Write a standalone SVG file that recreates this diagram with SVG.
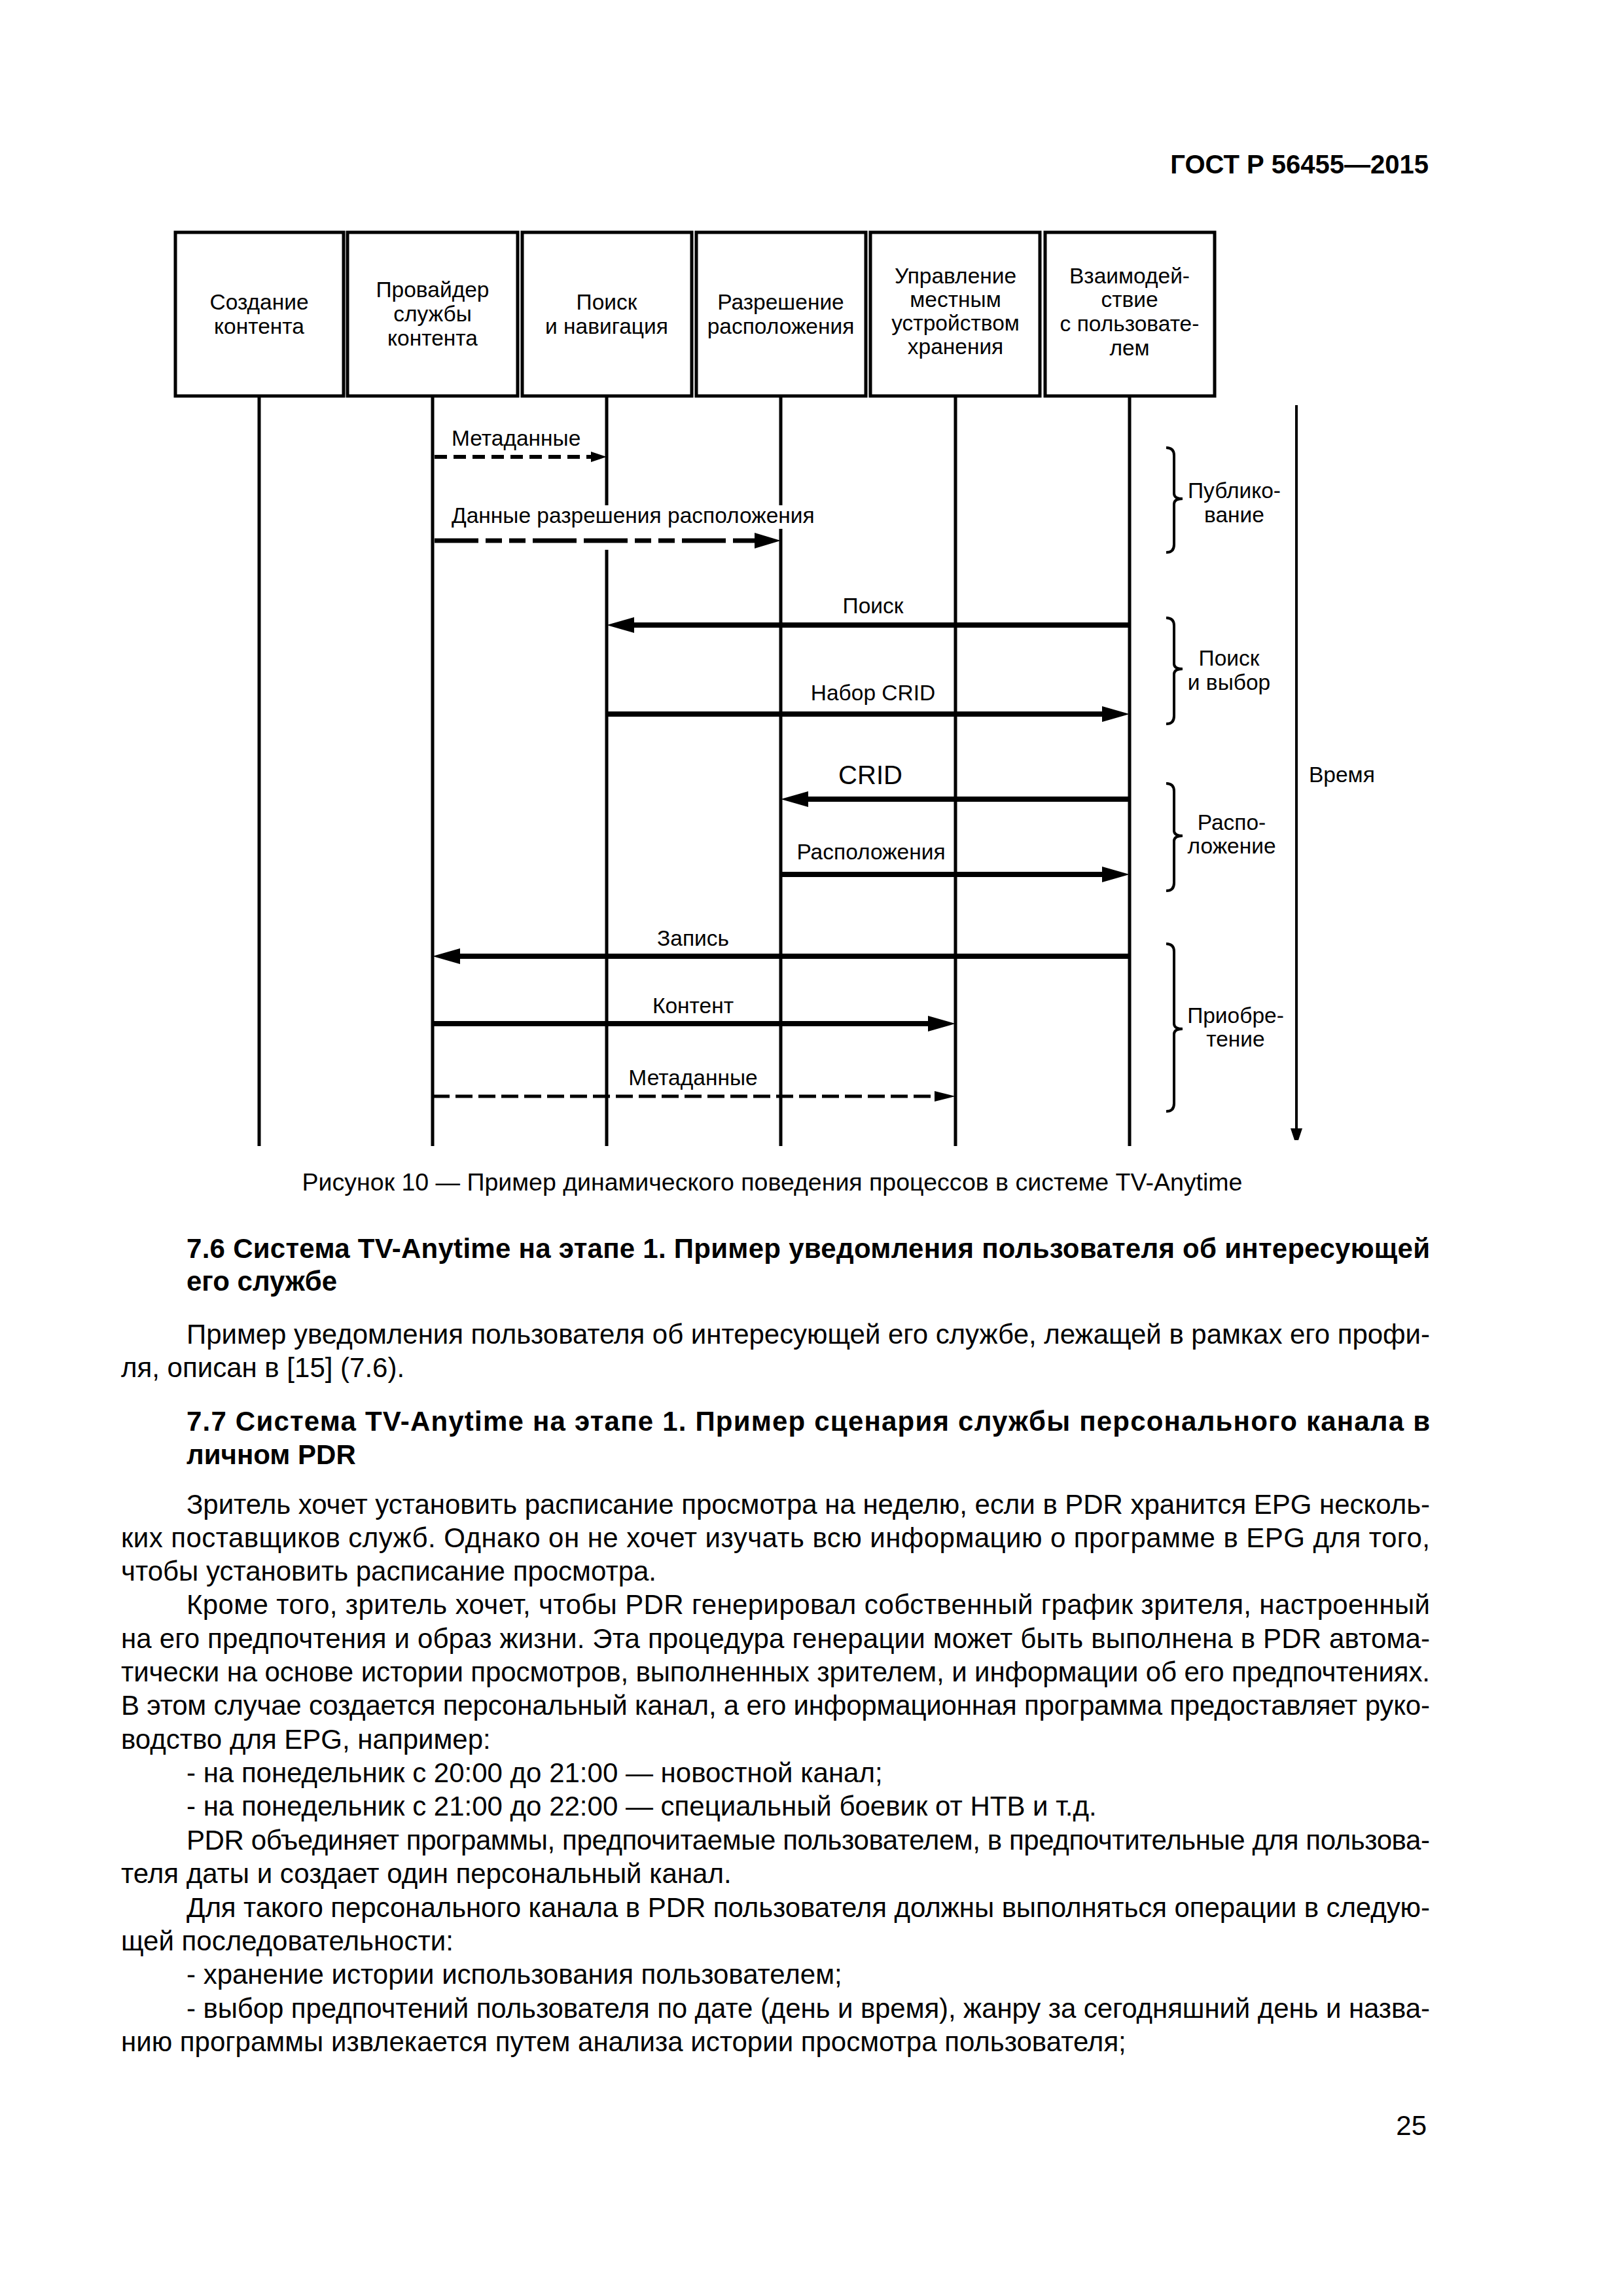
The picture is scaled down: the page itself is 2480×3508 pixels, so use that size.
<svg xmlns="http://www.w3.org/2000/svg" width="2480" height="3508" viewBox="0 0 2480 3508">
<defs>
<style>
text{font-family:"Liberation Sans",Arial,sans-serif;fill:#000}
.lbl{font-size:33.5px}
.crid{font-size:40px}
.c{text-anchor:middle}
.r{text-anchor:end}
.body{font-size:42px}
.b{font-weight:bold}
.cap{font-size:37.5px}
.hdr{font-size:40px;font-weight:bold}
.box{fill:#fff;stroke:#000;stroke-width:5}
.life{stroke:#000;stroke-width:5;fill:none}
.msg{stroke:#000;stroke-width:8;fill:none}
.d1{stroke:#000;stroke-width:6;stroke-dasharray:19 10;fill:none}
.d2{stroke:#000;stroke-width:7;stroke-dasharray:67 11 67 11 25 11 25 11;stroke-dashoffset:78;fill:none}
.d3{stroke:#000;stroke-width:5;stroke-dasharray:26 9;fill:none}
.time{stroke:#000;stroke-width:4;fill:none}
.brace{stroke:#000;stroke-width:4;fill:none}
</style>
<marker id="ah" markerUnits="userSpaceOnUse" markerWidth="42" markerHeight="24" refX="0" refY="12" orient="auto"><path d="M0,0 L42,12 L0,24 z"/></marker>
<marker id="ahm" markerUnits="userSpaceOnUse" markerWidth="40" markerHeight="24" refX="0" refY="12" orient="auto"><path d="M0,0 L40,12 L0,24 z"/></marker>
<marker id="ahs" markerUnits="userSpaceOnUse" markerWidth="24" markerHeight="16" refX="0" refY="8" orient="auto"><path d="M0,0 L24,8 L0,16 z"/></marker>
<marker id="ahd" markerUnits="userSpaceOnUse" markerWidth="32" markerHeight="16" refX="0" refY="8" orient="auto"><path d="M0,0 L32,8 L0,16 z"/></marker>
<marker id="aht" markerUnits="userSpaceOnUse" markerWidth="18" markerHeight="28" refX="0" refY="9" orient="auto"><path d="M0,0 L27,9 L0,18 z"/></marker>
</defs>
<rect width="2480" height="3508" fill="#fff"/>

<text class="hdr r" x="2183" y="265">ГОСТ Р 56455—2015</text>

<g id="lifelines">
<line class="life" x1="396" y1="605" x2="396" y2="1751"/>
<line class="life" x1="661" y1="605" x2="661" y2="1751"/>
<line class="life" x1="927" y1="605" x2="927" y2="772"/>
<line class="life" x1="927" y1="840" x2="927" y2="1751"/>
<line class="life" x1="1193" y1="605" x2="1193" y2="772"/>
<line class="life" x1="1193" y1="808" x2="1193" y2="1751"/>
<line class="life" x1="1460" y1="605" x2="1460" y2="1751"/>
<line class="life" x1="1726" y1="605" x2="1726" y2="1751"/>
</g>

<g id="node-sozdanie">
<rect class="box" x="268" y="355" width="257" height="250"/>
<text class="lbl c" x="396" y="473">Создание</text>
<text class="lbl c" x="396" y="510">контента</text>
</g>
<g id="node-provider">
<rect class="box" x="531" y="355" width="260" height="250"/>
<text class="lbl c" x="661" y="454">Провайдер</text>
<text class="lbl c" x="661" y="491">службы</text>
<text class="lbl c" x="661" y="528">контента</text>
</g>
<g id="node-poisk">
<rect class="box" x="798" y="355" width="259" height="250"/>
<text class="lbl c" x="927" y="473">Поиск</text>
<text class="lbl c" x="927" y="510">и навигация</text>
</g>
<g id="node-razreshenie">
<rect class="box" x="1064" y="355" width="259" height="250"/>
<text class="lbl c" x="1193" y="473">Разрешение</text>
<text class="lbl c" x="1193" y="510">расположения</text>
</g>
<g id="node-upravlenie">
<rect class="box" x="1330" y="355" width="259" height="250"/>
<text class="lbl c" x="1460" y="433">Управление</text>
<text class="lbl c" x="1460" y="469">местным</text>
<text class="lbl c" x="1460" y="505">устройством</text>
<text class="lbl c" x="1460" y="541">хранения</text>
</g>
<g id="node-vzaimodeistvie">
<rect class="box" x="1597" y="355" width="259" height="250"/>
<text class="lbl c" x="1726" y="433">Взаимодей-</text>
<text class="lbl c" x="1726" y="469">ствие</text>
<text class="lbl c" x="1726" y="506">с пользовате-</text>
<text class="lbl c" x="1726" y="543">лем</text>
</g>

<g id="connectors">
<line class="d1" x1="664" y1="698" x2="903" y2="698" marker-end="url(#ahs)"/>
<line class="d2" x1="664" y1="826" x2="1153" y2="826" marker-end="url(#ahm)"/>
<line class="msg" x1="1726" y1="955" x2="969" y2="955" marker-end="url(#ah)"/>
<line class="msg" x1="927" y1="1091" x2="1684" y2="1091" marker-end="url(#ah)"/>
<line class="msg" x1="1726" y1="1221" x2="1235" y2="1221" marker-end="url(#ah)"/>
<line class="msg" x1="1193" y1="1336" x2="1684" y2="1336" marker-end="url(#ah)"/>
<line class="msg" x1="1726" y1="1461" x2="703" y2="1461" marker-end="url(#ah)"/>
<line class="msg" x1="661" y1="1564" x2="1418" y2="1564" marker-end="url(#ah)"/>
<line class="d3" x1="661" y1="1675" x2="1428" y2="1675" marker-end="url(#ahd)"/>
<line class="time" x1="1981" y1="619" x2="1981" y2="1724" marker-end="url(#aht)"/>
</g>

<g id="connector-labels">
<text class="lbl" x="690" y="681">Метаданные</text>
<text class="lbl" x="690" y="799">Данные разрешения расположения</text>
<text class="lbl c" x="1334" y="937">Поиск</text>
<text class="lbl c" x="1334" y="1070">Набор CRID</text>
<text class="crid c" x="1330" y="1198">CRID</text>
<text class="lbl c" x="1331" y="1313">Расположения</text>
<text class="lbl c" x="1059" y="1445">Запись</text>
<text class="lbl c" x="1059" y="1548">Контент</text>
<text class="lbl c" x="1059" y="1658">Метаданные</text>
</g>

<g id="phases">
<path class="brace" d="M1782,684 Q1794,684 1794,696 L1794,754 Q1794,762 1807,762 Q1794,762 1794,770 L1794,832 Q1794,844 1782,844"/>
<path class="brace" d="M1782,944 Q1794,944 1794,956 L1794,1014 Q1794,1022 1807,1022 Q1794,1022 1794,1030 L1794,1094 Q1794,1106 1782,1106"/>
<path class="brace" d="M1782,1197 Q1794,1197 1794,1209 L1794,1269 Q1794,1277 1807,1277 Q1794,1277 1794,1285 L1794,1349 Q1794,1361 1782,1361"/>
<path class="brace" d="M1782,1442 Q1794,1442 1794,1454 L1794,1564 Q1794,1572 1807,1572 Q1794,1572 1794,1580 L1794,1686 Q1794,1698 1782,1698"/>
<text class="lbl c" x="1886" y="761">Публико-</text>
<text class="lbl c" x="1886" y="798">вание</text>
<text class="lbl c" x="1878" y="1017">Поиск</text>
<text class="lbl c" x="1878" y="1054">и выбор</text>
<text class="lbl c" x="1882" y="1268">Распо-</text>
<text class="lbl c" x="1882" y="1304">ложение</text>
<text class="lbl c" x="1888" y="1563">Приобре-</text>
<text class="lbl c" x="1888" y="1599">тение</text>
<text class="lbl" x="2000" y="1195">Время</text>
</g>

<text class="cap c" x="1180" y="1819">Рисунок 10 — Пример динамического поведения процессов в системе TV-Anytime</text>

<g id="body">
<text class="body b" x="285" y="1922" textLength="1900" lengthAdjust="spacing">7.6 Система TV-Anytime на этапе 1. Пример уведомления пользователя об интересующей</text>
<text class="body b" x="285" y="1972">его службе</text>
<text class="body" x="285" y="2053" textLength="1900" lengthAdjust="spacing">Пример уведомления пользователя об интересующей его службе, лежащей в рамках его профи-</text>
<text class="body" x="185" y="2104">ля, описан в [15] (7.6).</text>
<text class="body b" x="285" y="2186" textLength="1900" lengthAdjust="spacing">7.7 Система TV-Anytime на этапе 1. Пример сценария службы персонального канала в</text>
<text class="body b" x="285" y="2237">личном PDR</text>
<text class="body" x="285" y="2313" textLength="1900" lengthAdjust="spacing">Зритель хочет установить расписание просмотра на неделю, если в PDR хранится EPG несколь-</text>
<text class="body" x="185" y="2364" textLength="2000" lengthAdjust="spacing">ких поставщиков служб. Однако он не хочет изучать всю информацию о программе в EPG для того,</text>
<text class="body" x="185" y="2415">чтобы установить расписание просмотра.</text>
<text class="body" x="285" y="2466" textLength="1900" lengthAdjust="spacing">Кроме того, зритель хочет, чтобы PDR генерировал собственный график зрителя, настроенный</text>
<text class="body" x="185" y="2518" textLength="2000" lengthAdjust="spacing">на его предпочтения и образ жизни. Эта процедура генерации может быть выполнена в PDR автома-</text>
<text class="body" x="185" y="2569" textLength="2000" lengthAdjust="spacing">тически на основе истории просмотров, выполненных зрителем, и информации об его предпочтениях.</text>
<text class="body" x="185" y="2620" textLength="2000" lengthAdjust="spacing">В этом случае создается персональный канал, а его информационная программа предоставляет руко-</text>
<text class="body" x="185" y="2672">водство для EPG, например:</text>
<text class="body" x="285" y="2723">- на понедельник с 20:00 до 21:00 — новостной канал;</text>
<text class="body" x="285" y="2774">- на понедельник с 21:00 до 22:00 — специальный боевик от НТВ и т.д.</text>
<text class="body" x="285" y="2826" textLength="1900" lengthAdjust="spacing">PDR объединяет программы, предпочитаемые пользователем, в предпочтительные для пользова-</text>
<text class="body" x="185" y="2877">теля даты и создает один персональный канал.</text>
<text class="body" x="285" y="2929" textLength="1900" lengthAdjust="spacing">Для такого персонального канала в PDR пользователя должны выполняться операции в следую-</text>
<text class="body" x="185" y="2980">щей последовательности:</text>
<text class="body" x="285" y="3031">- хранение истории использования пользователем;</text>
<text class="body" x="285" y="3083" textLength="1900" lengthAdjust="spacing">- выбор предпочтений пользователя по дате (день и время), жанру за сегодняшний день и назва-</text>
<text class="body" x="185" y="3134">нию программы извлекается путем анализа истории просмотра пользователя;</text>
<text class="body r" x="2180" y="3262">25</text>
</g>
</svg>
